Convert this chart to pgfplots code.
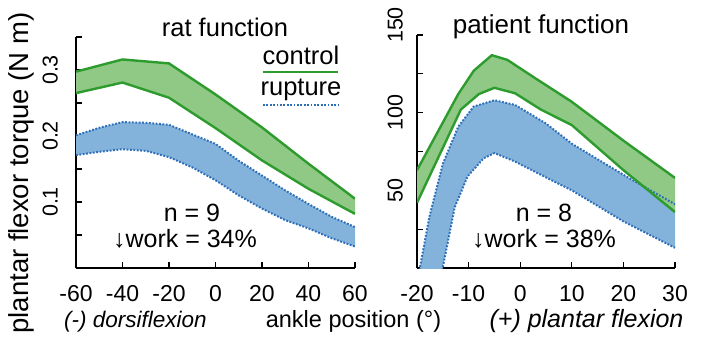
\documentclass[border=0pt]{standalone}
\usepackage{fontspec}
\setmainfont{Liberation Sans}
\usepackage{pgfplots}
\usepackage{pgfplotstable}
\pgfplotsset{compat=1.18}
\usepgfplotslibrary{fillbetween}
\definecolor{cline}{RGB}{45,155,45}
\definecolor{cfill}{RGB}{143,201,133}
\definecolor{rfill}{RGB}{131,178,219}
\definecolor{rline}{RGB}{45,110,185}

\pgfplotstableread{
x cu cl
-60 0.2975 0.265
-40 0.316 0.281
-20 0.310 0.258
0 0.263 0.212
20 0.213 0.163
40 0.158 0.120
60 0.105 0.082
}\ratc
\pgfplotstableread{
x ru rl
-60 0.201 0.171
-50 0.2125 0.176
-40 0.221 0.180
-30 0.220 0.1775
-20 0.217 0.168
-10 0.2025 0.1525
0 0.188 0.133
10 0.1625 0.110
20 0.140 0.090
30 0.1175 0.0725
40 0.097 0.060
50 0.0775 0.045
60 0.062 0.0325
}\ratr
\pgfplotstableread{
x y
-20 63
-12 112
-9 127
-5.5 137
-2.5 134
3 122
10 107
20 82
30 58
}\patcu
\pgfplotstableread{
x y
-20 42
-11.5 102
-8 112
-5 116
-1 112.5
4 102
10 92
20 63
30 36
}\patcl
\pgfplotstableread{
x y
-20 -10
-17.6 33
-15 67
-12 91
-9 104
-5 108
-1 105
5 93
10 80
20 60
30 41
}\patru
\pgfplotstableread{
x y
-15.5 -8
-12.7 39
-10.2 59
-7.1 70.6
-5 74
-1 68.5
4.6 59
10 50
20 30
30 13
}\patrl

\begin{document}
\begin{tikzpicture}
\pgfplotsset{
  every axis/.append style={
    scale only axis,
    axis x line*=bottom, axis y line*=left,
    axis line style={line width=1.2pt,-},
    tick align=inside,
    major tick length=6pt, minor tick length=6pt,
    major tick style={black,line width=1.2pt},
    minor tick style={black,line width=1.2pt},
    xticklabel style={font=\fontsize{23}{23}\selectfont, anchor=north, inner xsep=0pt, inner ysep=17pt},
  }
}
\begin{axis}[at={(0,0)}, width=279pt, height=231pt,
  xmin=-60, xmax=60, ymin=0, ymax=0.35,
  xtick={-60,-40,-20,0,20,40,60}, xticklabels={-60,-40,-20,0,20,40,60},
  ytick={0.1,0.2,0.3}, yticklabels={0.1,0.2,0.3},
  minor ytick={0.05,0.15,0.25,0.35},
  yticklabel style={font=\fontsize{21.5}{21.5}\selectfont, rotate=90, anchor=south, inner xsep=0pt, inner ysep=18pt},
]
\addplot[draw=none, name path=lcu, forget plot] table[x=x,y=cu]{\ratc};
\addplot[draw=none, name path=lcl, forget plot] table[x=x,y=cl]{\ratc};
\addplot[draw=none, name path=lru, forget plot] table[x=x,y=ru]{\ratr};
\addplot[draw=none, name path=lrl, forget plot] table[x=x,y=rl]{\ratr};
\addplot[rfill, draw=none] fill between[of=lru and lrl];
\addplot[cfill, draw=none] fill between[of=lcu and lcl];
\addplot[rline, line width=2pt, dash pattern=on 1.8pt off 1.6pt] table[x=x,y=ru]{\ratr};
\addplot[rline, line width=2pt, dash pattern=on 1.8pt off 1.6pt] table[x=x,y=rl]{\ratr};
\addplot[cline, line width=2.4pt] table[x=x,y=cu]{\ratc};
\addplot[cline, line width=2.4pt] table[x=x,y=cl]{\ratc};
\end{axis}

\begin{axis}[at={(341pt,0)}, width=258pt, height=233pt,
  xmin=-20, xmax=30, ymin=0, ymax=150,
  xtick={-20,-10,0,10,20,30}, xticklabels={-20,-10,0,10,20,30},
  ytick={50,100}, yticklabels={50,100},
  extra y ticks={150}, extra y tick labels={150},
  extra y tick style={yticklabel style={xshift=10pt}},
  minor ytick={25,75,125},
  yticklabel style={font=\fontsize{21.5}{21.5}\selectfont, rotate=90, anchor=south, inner xsep=0pt, inner ysep=14pt},
]
\addplot[draw=none, name path=pcu, forget plot] table[x=x,y=y]{\patcu};
\addplot[draw=none, name path=pcl, forget plot] table[x=x,y=y]{\patcl};
\addplot[draw=none, name path=pru, forget plot] table[x=x,y=y]{\patru};
\addplot[draw=none, name path=prl, forget plot] table[x=x,y=y]{\patrl};
\addplot[rfill, draw=none] fill between[of=pru and prl];
\addplot[cfill, draw=none] fill between[of=pcu and pcl];
\addplot[rline, line width=2pt, dash pattern=on 1.8pt off 1.6pt] table[x=x,y=y]{\patru};
\addplot[rline, line width=2pt, dash pattern=on 1.8pt off 1.6pt] table[x=x,y=y]{\patrl};
\addplot[cline, line width=2.4pt] table[x=x,y=y]{\patcu};
\addplot[cline, line width=2.4pt] table[x=x,y=y]{\patcl};
\end{axis}

% titles
\node[anchor=base, font=\fontsize{25.5}{25.5}\selectfont] at (149pt,231pt) {rat function};
\node[anchor=base, font=\fontsize{26}{26}\selectfont] at (465pt,234pt) {patient function};
% y label
\node[rotate=90, font=\fontsize{27.5}{27.5}\selectfont] at (-55pt,95pt) {plantar flexor torque (N m)};
% bottom labels
\node[anchor=base, font=\fontsize{22.5}{22.5}\selectfont\itshape] at (59.5pt,-59pt) {(-) dorsiflexion};
\node[anchor=base, font=\fontsize{23.5}{23.5}\selectfont] at (277.5pt,-59pt) {ankle position (°)};
\node[anchor=base, font=\fontsize{25}{25}\selectfont\itshape] at (510.5pt,-59pt) {(+) plantar flexion};
% annotations
\node[anchor=base, font=\fontsize{25}{25}\selectfont] at (116pt,46pt) {n = 9};
\node[anchor=base, font=\fontsize{25}{25}\selectfont] at (109pt,20pt) {↓work = 34\%};
\node[anchor=base, font=\fontsize{25}{25}\selectfont] at (468pt,46pt) {n = 8};
\node[anchor=base, font=\fontsize{25}{25}\selectfont] at (468pt,20pt) {↓work = 38\%};
% legend
\node[anchor=base, font=\fontsize{25.5}{25.5}\selectfont] at (225pt,203pt) {control};
\draw[cline, line width=2.4pt] (187pt,196pt) -- (262pt,196pt);
\node[anchor=base, font=\fontsize{25.5}{25.5}\selectfont] at (225pt,172pt) {rupture};
\draw[rline, line width=2pt, dash pattern=on 1.8pt off 1.6pt] (187pt,163pt) -- (262pt,163pt);
\path (-76pt,-68pt) rectangle (625pt,268pt);
\end{tikzpicture}
\end{document}
